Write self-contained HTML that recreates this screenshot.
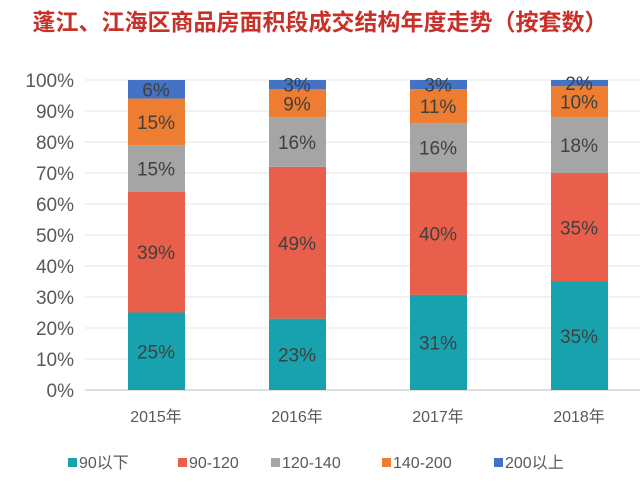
<!DOCTYPE html>
<html><head><meta charset="utf-8"><style>
body{margin:0;width:640px;height:480px;background:#fff;overflow:hidden;font-family:"Liberation Sans","Noto Sans CJK SC",sans-serif;}
</style></head><body>
<svg width="640" height="480" xmlns="http://www.w3.org/2000/svg">
<text x="320" y="30" text-anchor="middle" font-size="23" font-weight="bold" fill="#c8312a" font-family="Liberation Sans,Noto Sans CJK SC,sans-serif">蓬江、江海区商品房面积段成交结构年度走势（按套数）</text>
<g id="grid"></g><g id="bars"></g><g id="legend"></g>
</svg>
<script>
const categories=["2015年","2016年","2017年","2018年"];
const seriesNames=["90以下","90-120","120-140","140-200","200以上"];
const s90=[25,23,31,35];
const s90_120=[39,49,40,35];
const s120_140=[15,16,16,18];
const s140_200=[15,9,11,10];
const s200=[6,3,3,2];
const yTicks=[0,10,20,30,40,50,60,70,80,90,100];
const colors=["#17a2ad","#e8604c","#a5a5a5","#ed7d31","#4472c4"];
const series=[s90,s90_120,s120_140,s140_200,s200];
const NS="http://www.w3.org/2000/svg";
const y0=390,y1=80,xL=85,xR=640;
function y(v){return y0-(y0-y1)*v/100;}
function xc(i){return 156+i*141;}
const grid=document.getElementById('grid');
yTicks.forEach(t=>{
 const l=document.createElementNS(NS,'line');
 l.setAttribute('x1',xL);l.setAttribute('x2',xR);l.setAttribute('y1',y(t));l.setAttribute('y2',y(t));
 l.setAttribute('stroke',t===0?'#bfbfbf':'#e4e4e4');l.setAttribute('stroke-width','1');
 
 
 grid.appendChild(l);
 const tx=document.createElementNS(NS,'text');
 tx.setAttribute('x',74);tx.setAttribute('y',y(t)+7);tx.setAttribute('text-anchor','end');
 tx.setAttribute('font-size','19');tx.setAttribute('fill','#595959');tx.textContent=t+'%';
 
 
 grid.appendChild(tx);
});
const bars=document.getElementById('bars');
categories.forEach((c,i)=>{
 let tot=0;series.forEach(s=>tot+=s[i]);
 let acc=0;
 series.forEach((s,k)=>{
  const v=s[i]/tot*100;
  const r=document.createElementNS(NS,'rect');
  r.setAttribute('x',xc(i)-28);r.setAttribute('width',57);
  r.setAttribute('y',y(acc+v));r.setAttribute('height',y(acc)-y(acc+v));
  r.setAttribute('fill',colors[k]);
  
  
  bars.appendChild(r);
  const t=document.createElementNS(NS,'text');
  t.setAttribute('x',xc(i));t.setAttribute('y',y(acc+v/2)+7);t.setAttribute('text-anchor','middle');
  t.setAttribute('font-size','19');t.setAttribute('fill','#404040');t.textContent=s[i]+'%';
  
  
  bars.appendChild(t);
  acc+=v;
 });
 const cl=document.createElementNS(NS,'text');
 cl.setAttribute('x',xc(i));cl.setAttribute('y',422);cl.setAttribute('text-anchor','middle');
 cl.setAttribute('font-size','16');cl.setAttribute('fill','#595959');cl.textContent=c;
 
 
 bars.appendChild(cl);
});
const lg=document.getElementById('legend');
const lx=[68,178,271,382,494];
seriesNames.forEach((n,k)=>{
 const r=document.createElementNS(NS,'rect');
 r.setAttribute('x',lx[k]);r.setAttribute('y',458);r.setAttribute('width',9);r.setAttribute('height',9);
 r.setAttribute('fill',colors[k]);
 
 
 lg.appendChild(r);
 const t=document.createElementNS(NS,'text');
 t.setAttribute('x',lx[k]+11);t.setAttribute('y',468);t.setAttribute('font-size','16');t.setAttribute('fill','#595959');
 t.textContent=n;
 
 
 lg.appendChild(t);
});
</script>
</body></html>
